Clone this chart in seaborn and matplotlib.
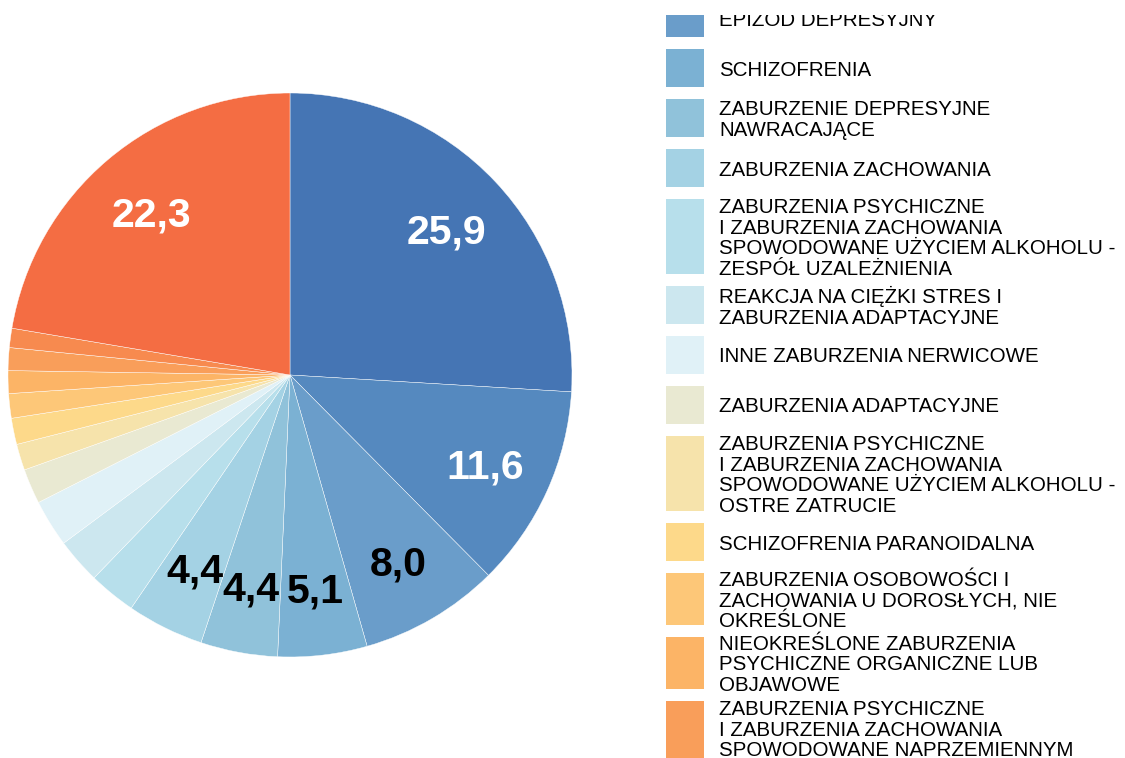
import matplotlib
matplotlib.use("Agg")
import matplotlib.pyplot as plt
import seaborn as sns
from matplotlib.patches import Rectangle
from matplotlib.transforms import Bbox

# Diagnosis groups (share of cases, %), in drawing order clockwise from 12 o'clock
categories = [
    "INNE ZABURZENIA LĘKOWE",
    "ZABURZENIA PSYCHICZNE\nI ZABURZENIA ZACHOWANIA\nSPOWODOWANE UŻYCIEM ALKOHOLU -\nZESPÓŁ ABSTYNENCYJNY",
    "EPIZOD DEPRESYJNY",
    "SCHIZOFRENIA",
    "ZABURZENIE DEPRESYJNE\nNAWRACAJĄCE",
    "ZABURZENIA ZACHOWANIA",
    "ZABURZENIA PSYCHICZNE\nI ZABURZENIA ZACHOWANIA\nSPOWODOWANE UŻYCIEM ALKOHOLU -\nZESPÓŁ UZALEŻNIENIA",
    "REAKCJA NA CIĘŻKI STRES I\nZABURZENIA ADAPTACYJNE",
    "INNE ZABURZENIA NERWICOWE",
    "ZABURZENIA ADAPTACYJNE",
    "ZABURZENIA PSYCHICZNE\nI ZABURZENIA ZACHOWANIA\nSPOWODOWANE UŻYCIEM ALKOHOLU -\nOSTRE ZATRUCIE",
    "SCHIZOFRENIA PARANOIDALNA",
    "ZABURZENIA OSOBOWOŚCI I\nZACHOWANIA U DOROSŁYCH, NIE\nOKREŚLONE",
    "NIEOKREŚLONE ZABURZENIA\nPSYCHICZNE ORGANICZNE LUB\nOBJAWOWE",
    "ZABURZENIA PSYCHICZNE\nI ZABURZENIA ZACHOWANIA\nSPOWODOWANE NAPRZEMIENNYM\nUŻYWANIEM WIELU SUBSTANCJI",
    "OTĘPIENIE, NIE OKREŚLONE",
    "POZOSTAŁE",
]
values = [25.9, 11.6, 8.0, 5.1, 4.4, 4.4, 2.7, 2.6, 2.7, 2.0,
          1.5, 1.5, 1.4, 1.3, 1.3, 1.1, 22.3]

# Blue -> beige -> orange ramp
colors = [
    "#4575b4", "#5589bf", "#6a9dca", "#7bb1d3", "#90c2da", "#a4d2e4",
    "#b7dfeb", "#cce7ef", "#e0f1f7", "#e9e9d2", "#f6e3ab", "#fdd98a",
    "#fdc778", "#fcb466", "#f99e5a", "#f78a4f", "#f46d43",
]

LABEL_MIN = 4.0

sns.set_theme(style="white")
plt.rcParams["font.family"] = ["Liberation Sans", "DejaVu Sans"]

W, H = 1125, 758
fig = plt.figure(figsize=(W / 100, H / 100), dpi=100)
fig.patch.set_facecolor("white")

# Pie axes: centre (290, 375) px, radius 282 px
R = 282
cx, cy = 290, 375
ax = fig.add_axes([(cx - R) / W, (H - cy - R) / H, 2 * R / W, 2 * R / H])

value_labels = [f"{v:.1f}".replace(".", ",") if v >= LABEL_MIN else "" for v in values]
wedges, texts = ax.pie(
    values,
    colors=colors,
    labels=value_labels,
    labeldistance=0.76,
    startangle=90,
    counterclock=False,
    radius=1.0,
    wedgeprops=dict(edgecolor="white", linewidth=0.3),
)
for t, v in zip(texts, values):
    t.set_ha("center")
    t.set_va("center_baseline")
    t.set_fontsize(29.5)
    t.set_fontweight("bold")
    t.set_color("white" if v > 10 else "black")
ax.set_xlim(-1, 1)
ax.set_ylim(-1, 1)
ax.set_aspect("equal")
ax.axis("off")

# Legend column, scrolled so that the third entry sits at the top
clip = Bbox.from_extents(0, 0, W, H - 15)
box_x0, box_w, text_x = 666, 38, 719
line_h, gap = 23, 12


def box_height(label):
    n = label.count("\n") + 1
    return max(38, line_h * n - 17)


y = -1 - sum(box_height(c) + gap for c in categories[:2])
for label, col in zip(categories, colors):
    h = box_height(label)
    rect = Rectangle((box_x0 / W, 1 - (y + h) / H), box_w / W, h / H,
                     transform=fig.transFigure, facecolor=col,
                     edgecolor="none")
    rect.set_clip_on(True)
    rect.set_clip_box(clip)
    fig.add_artist(rect)
    txt = fig.text(text_x / W, 1 - (y + h / 2 + 2) / H, label,
                   ha="left", va="center", fontsize=14.8,
                   linespacing=1.1, color="black")
    txt.set_clip_on(True)
    txt.set_clip_box(clip)
    y += h + gap

fig.savefig("out.png", dpi=100, facecolor="white")
